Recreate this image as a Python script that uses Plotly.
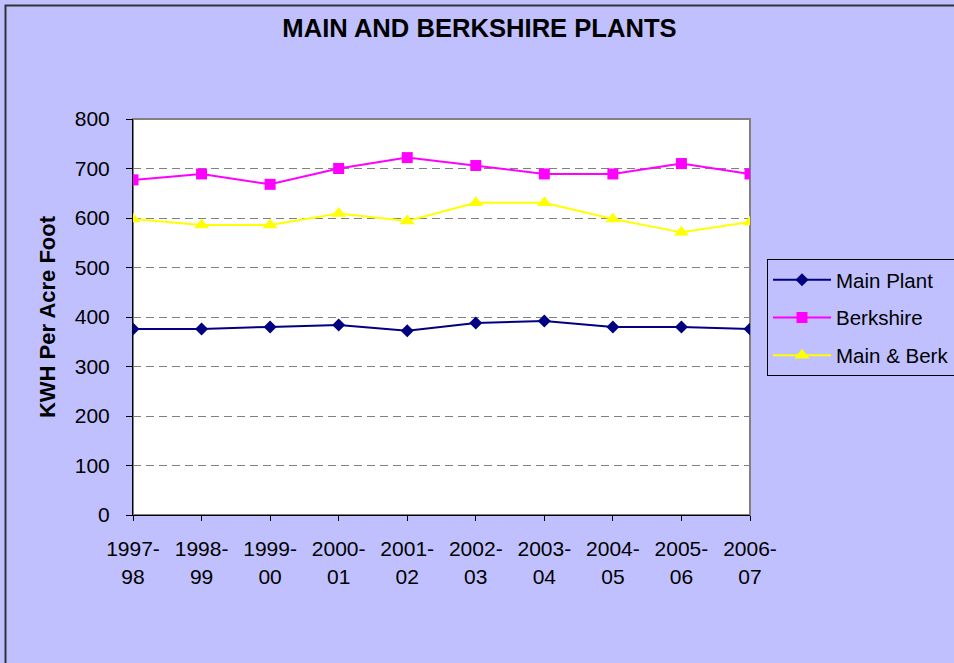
import plotly.graph_objects as go

categories = ["1997-<br>98", "1998-<br>99", "1999-<br>00", "2000-<br>01", "2001-<br>02",
              "2002-<br>03", "2003-<br>04", "2004-<br>05", "2005-<br>06", "2006-<br>07"]
main_plant = [376, 376, 380, 384, 372, 388, 392, 380, 380, 376]
berkshire = [677, 689, 668, 700, 722, 706, 689, 689, 710, 689]
main_berk = [598, 586, 586, 609, 594, 631, 631, 598, 571, 592]
y_ticks = [0, 100, 200, 300, 400, 500, 600, 700, 800]

FONT = "Liberation Sans, Arial, sans-serif"
BG = "#C0C0FF"

fig = go.Figure()
fig.add_trace(go.Scatter(x=categories, y=main_plant, name="Main Plant", mode="lines+markers",
                         legendgroup="a",
                         line=dict(color="#000080", width=2),
                         marker=dict(symbol="diamond", size=10, color="#000080")))
fig.add_trace(go.Scatter(x=categories, y=berkshire, name="Berkshire", mode="lines+markers",
                         legendgroup="b",
                         line=dict(color="#FF00FF", width=2),
                         marker=dict(symbol="square", size=11, color="#FF00FF")))
fig.add_trace(go.Scatter(x=categories, y=main_berk, name="Main & Berk", mode="lines+markers",
                         legendgroup="c",
                         line=dict(color="#FFFF00", width=2),
                         marker=dict(symbol="triangle-up", size=13, color="#FFFF00")))

L, R, T, B = 133, 954 - 750, 119, 663 - 515
W, H = 954, 663
pw, ph = W - L - R, H - T - B

def px_x(x):
    return (x - L) / pw

def px_y(y):
    return (H - B - y) / ph

fig.update_layout(
    width=W, height=H,
    margin=dict(l=L, r=R, t=T, b=B, pad=0, autoexpand=False),
    paper_bgcolor=BG, plot_bgcolor="white",
    font=dict(family=FONT, color="black", size=21),
    title=dict(text="<b>MAIN AND BERKSHIRE PLANTS</b>", x=479.5 / W, xref="container", xanchor="center",
               y=1 - 28 / H, yref="container", yanchor="middle",
               font=dict(family=FONT, size=25.6, color="black")),
    showlegend=True,
    legend=dict(x=px_x(767), y=px_y(259), xanchor="left", yanchor="top",
                bgcolor=BG, bordercolor="black", borderwidth=1,
                font=dict(family=FONT, size=20.5, color="black"),
                tracegroupgap=8, itemwidth=58),
    xaxis=dict(type="category", range=[0, len(categories) - 1],
               showgrid=False, showline=True, linecolor="black", linewidth=1,
               ticks="outside", ticklen=5, tickcolor="black",
               tickfont=dict(family=FONT, size=21, color="black"),
               ticklabelstandoff=10, zeroline=False, automargin=False),
    yaxis=dict(range=[0, 800], tickvals=y_ticks,
               showgrid=True, gridcolor="#808080", griddash="8px,5px", gridwidth=1,
               showline=True, linecolor="black", linewidth=1,
               ticks="outside", ticklen=6, tickcolor="black",
               tickfont=dict(family=FONT, size=21, color="black"),
               ticklabelstandoff=12, zeroline=False, automargin=False,
               title=dict(text="<b>KWH Per Acre Foot</b>", standoff=13,
                          font=dict(family=FONT, size=22, color="black"))),
    shapes=[
        dict(type="rect", xref="paper", yref="paper", x0=0, y0=0, x1=1, y1=1,
             line=dict(color="#808080", width=2), layer="below"),
        dict(type="rect", xref="paper", yref="paper", x0=px_x(5.5), y0=px_y(700), x1=px_x(1100), y1=px_y(5.5),
             line=dict(color="#333333", width=2), fillcolor="rgba(0,0,0,0)", layer="below"),
    ],
)

fig.write_html("out.html", config={"displayModeBar": False},
               post_script="document.body.style.margin='0px';")
